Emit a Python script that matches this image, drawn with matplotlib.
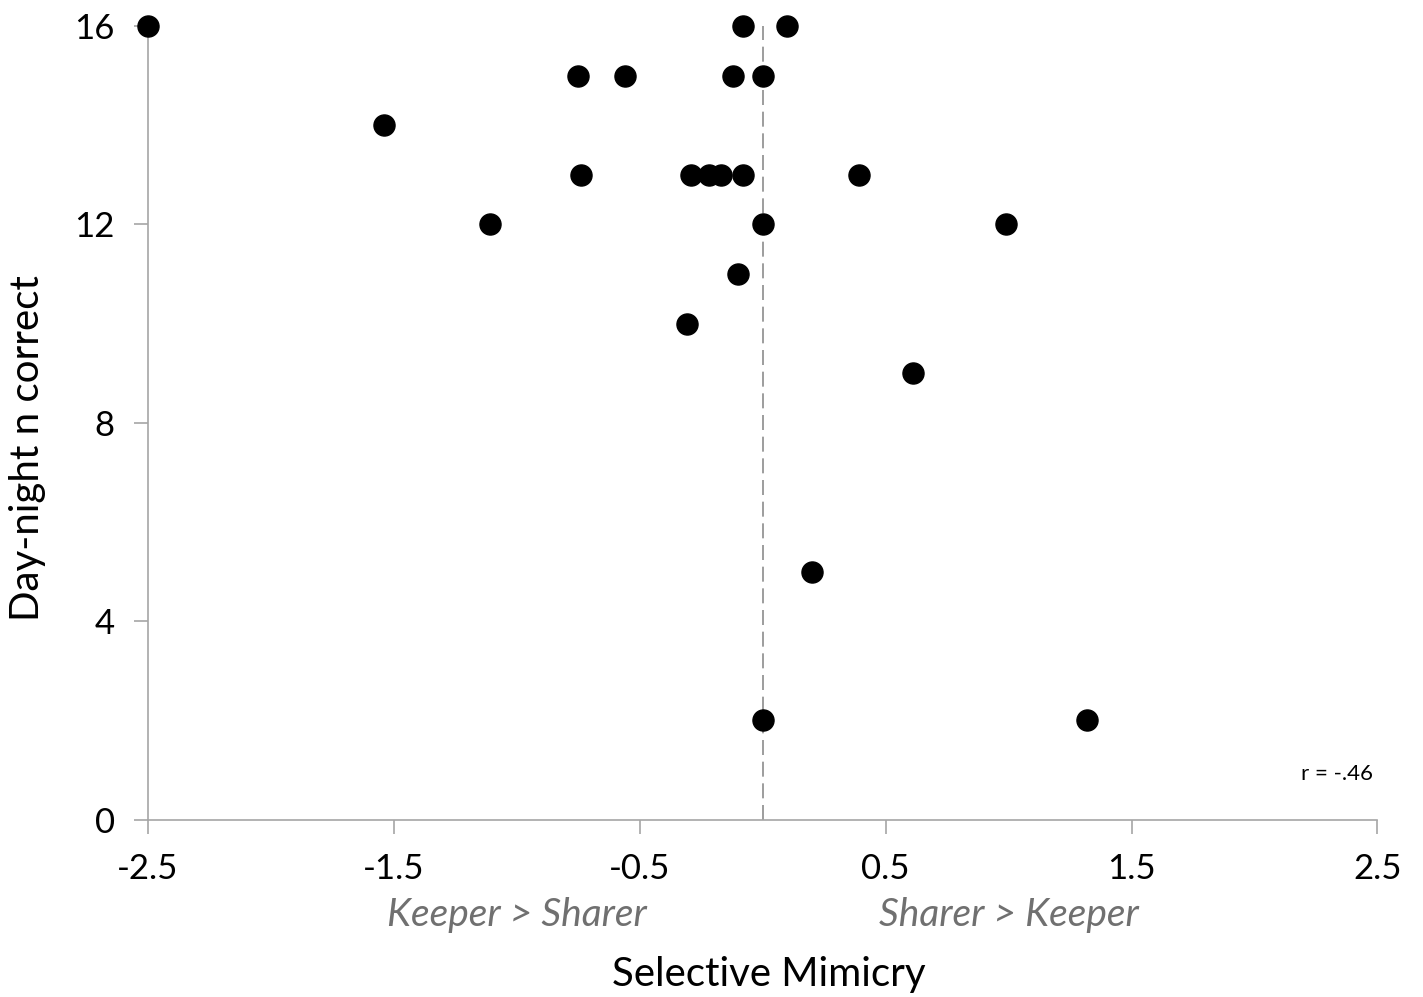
import matplotlib

matplotlib.use("Agg")
import matplotlib.pyplot as plt
import matplotlib.transforms as mtransforms

# selective mimicry score vs day-night correct responses
mimicry = [-2.5, -1.54, -1.11, -0.75, -0.74, -0.56, -0.31, -0.29, -0.22, -0.17,
           -0.12, -0.10, -0.08, -0.08, 0.0, 0.0, 0.0, 0.10, 0.20, 0.39, 0.61, 0.99, 1.32]
day_night = [16, 14, 12, 15, 13, 15, 10, 13, 13, 13,
             15, 11, 16, 13, 15, 12, 2, 16, 5, 13, 9, 12, 2]
x_ticks = [-2.5, -1.5, -0.5, 0.5, 1.5, 2.5]
y_ticks = [0, 4, 8, 12, 16]
side_labels = [(-1.0, "Keeper > Sharer"), (1.0, "Sharer > Keeper")]

plt.rcParams["font.family"] = ["Lato", "DejaVu Sans"]
AXIS_GREY = "#a6a6a6"

fig = plt.figure(figsize=(14.23, 9.97), dpi=100)
ax = fig.add_axes([0.104, 0.178, 0.864, 0.796])

ax.axvline(0, ymin=0, ymax=1, color="#8c8c8c", linestyle=(0, (9, 4)), linewidth=1.2, zorder=1)
ax.scatter(mimicry, day_night, s=230, color="black", zorder=3, clip_on=False)

ax.set_xlim(-2.5, 2.5)
ax.set_ylim(0, 16)
ax.set_xticks(x_ticks, [f"{v:g}" for v in x_ticks])
ax.set_yticks(y_ticks)
ax.tick_params(axis="both", labelsize=25, color=AXIS_GREY, length=10, width=1.2, pad=14)
ax.spines[["top", "right"]].set_visible(False)
for side in ("left", "bottom"):
    ax.spines[side].set_color(AXIS_GREY)
    ax.spines[side].set_linewidth(1.2)

# direction hints under the x axis
trans = mtransforms.blended_transform_factory(ax.transData, ax.transAxes)
for xpos, label in side_labels:
    ax.text(xpos, -0.12, label, transform=trans, ha="center", va="center",
            fontsize=28, style="italic", color="#707070")

ax.text(0.996, 0.058, "r = -.46", transform=ax.transAxes, ha="right", va="center", fontsize=16)

ax.set_xlabel("Selective Mimicry", fontsize=29)
ax.xaxis.set_label_coords(0.505, -0.172)
ax.set_ylabel("Day-night n correct", fontsize=29)
ax.yaxis.set_label_coords(-0.083, 0.468)

fig.savefig("out.png", dpi=100, facecolor="white")
